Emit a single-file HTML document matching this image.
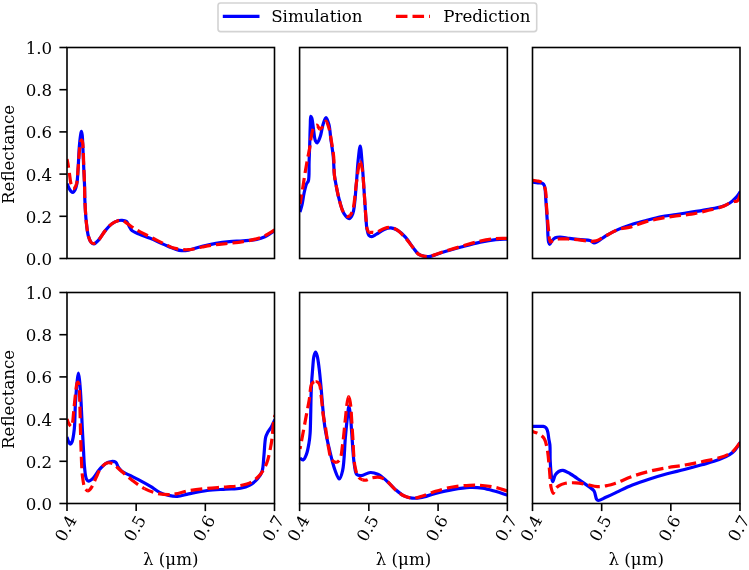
<!DOCTYPE html>
<html><head><meta charset="utf-8"><title>Reflectance</title>
<style>html,body{margin:0;padding:0;background:#fff;overflow:hidden}svg{display:block}text{font-family:"DejaVu Serif","Liberation Serif",serif;font-size:16.67px;fill:#000}</style>
</head><body>
<svg width="749" height="570" viewBox="0 0 749 570">
<rect width="749" height="570" fill="#fff"/>
<defs>
<clipPath id="c00"><rect x="67" y="47.5" width="207.5" height="211"/></clipPath>
<clipPath id="c01"><rect x="299.6" y="47.5" width="207.75" height="211"/></clipPath>
<clipPath id="c02"><rect x="532.5" y="47.5" width="207.5" height="211"/></clipPath>
<clipPath id="c10"><rect x="67" y="292.5" width="207.5" height="211"/></clipPath>
<clipPath id="c11"><rect x="299.6" y="292.5" width="207.75" height="211"/></clipPath>
<clipPath id="c12"><rect x="532.5" y="292.5" width="207.5" height="211"/></clipPath>
</defs>
<rect x="218" y="3" width="318.7" height="28.6" rx="2.6" fill="#fff" stroke="#d3d3d3" stroke-width="1.6"/>
<line x1="224.4" y1="16.35" x2="257.9" y2="16.35" stroke="#0000ff" stroke-width="3.2" stroke-linecap="square"/>
<text x="271.2" y="22.3">Simulation</text>
<line x1="395.9" y1="16.35" x2="430" y2="16.35" stroke="#ff0000" stroke-width="3.2" stroke-dasharray="11.56 5.04"/>
<text x="443.3" y="22.25">Prediction</text>
<g clip-path="url(#c00)" fill="none" stroke-width="3.2" stroke-linejoin="round">
<path d="M67,183.5 C67.67,185.1 68.26,186.92 69,188.3 C69.62,189.45 70.24,190.6 71,191.3 C71.61,191.86 72.38,192.52 73,192.4 C73.73,192.26 74.43,191.05 75,190 C75.8,188.51 76.32,186.54 76.8,184 C77.59,179.81 77.79,172.9 78.2,167 C78.64,160.61 78.83,152.81 79.3,147 C79.67,142.49 80.14,137.82 80.6,135 C80.86,133.44 81.13,131.4 81.4,131.4 C81.67,131.4 81.99,133.46 82.2,135 C82.57,137.66 82.59,141.75 82.8,146 C83.09,151.88 83.4,160.37 83.7,167 C83.97,172.97 84.3,178.33 84.5,184 C84.7,189.67 84.63,195.04 84.9,201 C85.2,207.63 85.62,215.69 86.3,222 C86.86,227.21 87.32,232.47 88.4,236.2 C89.15,238.78 90,241.24 91.2,242.5 C92.01,243.35 93.01,244.01 94,243.9 C95.32,243.75 96.81,241.99 98.3,240.4 C100.5,238.06 102.85,233.52 105.3,230.6 C107.53,227.94 109.95,225.2 112.3,223.5 C114.16,222.15 116.12,221.21 117.9,220.7 C119.36,220.28 120.71,220.19 122.1,220.3 C123.51,220.41 125.16,220.54 126.3,221.4 C127.61,222.39 128.22,224.73 129.2,226.3 C130.13,227.79 130.64,229.4 132,230.6 C133.68,232.08 136.37,232.86 139,234 C142.27,235.42 146.27,236.67 150.2,238.3 C154.65,240.15 159.91,242.72 164.3,244.6 C168.1,246.23 171.8,247.95 175,249 C177.49,249.82 179.52,250.52 181.8,250.7 C184.05,250.88 185.97,250.58 188.6,250.1 C192.38,249.41 197.64,247.43 202.2,246.3 C206.74,245.17 211.32,244.09 215.9,243.3 C220.42,242.52 224.96,242 229.5,241.6 C234.03,241.2 238.57,241.25 243.1,240.9 C247.64,240.55 252.78,240.34 256.7,239.5 C259.82,238.83 262.5,237.92 264.9,236.8 C266.98,235.83 268.66,234.52 270.4,233.4 C272.01,232.36 273.47,231.33 275,230.3" stroke="#0000ff"/>
<path id="r1_0" d="M67,159 C67.33,160.67 67.66,162.04 68,164 C68.48,166.76 69,170.67 69.5,174 C70,177.33 70.29,181.34 71,184 C71.5,185.86 71.99,188.23 72.8,188.6 C73.29,188.82 73.99,188.45 74.5,188 C75.3,187.29 75.97,185.8 76.5,184" stroke="#ff0000" stroke-dasharray="11.56 5.04" stroke-dashoffset="2.57"/>
<path id="r1_1" d="M76.5,184 C77.44,180.8 77.54,175.09 78,170 C78.55,163.93 78.93,155.25 79.5,150 C79.87,146.56 80.14,143.22 80.7,141.5 C80.96,140.68 81.31,139.79 81.6,139.8 C81.92,139.82 82.26,141.01 82.5,142 C82.94,143.81 83.01,146.83 83.2,150 C83.48,154.61 83.58,161.33 83.8,167 C84.02,172.67 84.32,178.33 84.5,184 C84.68,189.67 84.63,195.04 84.9,201 C85.2,207.63 85.62,215.69 86.3,222 C86.86,227.21 87.32,232.47 88.4,236.2 C89.15,238.78 90.09,241.37 91.2,242.5 C91.84,243.16 92.47,243.55 93.3,243.5 C94.63,243.43 96.65,241.95 98.3,240.4 C100.66,238.19 102.85,233.52 105.3,230.6 C107.53,227.94 109.95,225.2 112.3,223.5 C114.16,222.15 116.12,221.21 117.9,220.7 C119.36,220.28 120.75,220 122.1,220.3 C123.56,220.63 124.74,221.79 126.3,222.8 C128.38,224.15 130.8,226.15 133.4,227.8 C136.36,229.68 139.8,231.58 143.2,233.4 C146.78,235.32 150.78,237.2 154.4,239 C157.8,240.69 160.91,242.35 164.3,243.9 C167.77,245.49 171.14,247.43 175,248.4 C179.19,249.45 184.08,249.93 188.6,249.7 C193.15,249.47 197.65,247.83 202.2,247 C206.75,246.17 211.33,245.32 215.9,244.7 C220.43,244.09 224.97,243.82 229.5,243.3 C234.04,242.78 238.58,242.35 243.1,241.6 C247.65,240.85 252.78,239.94 256.7,238.8 C259.82,237.9 262.08,237.04 264.9,235.7 C268.15,234.15 271.63,231.77 275,229.8" stroke="#ff0000" stroke-dasharray="11.56 5.04" stroke-dashoffset="7.96"/>
</g>
<rect x="67" y="47.5" width="207.5" height="211" fill="none" stroke="#000" stroke-width="1.6" stroke-linejoin="miter"/>
<line x1="59.4" y1="258.5" x2="67" y2="258.5" stroke="#000" stroke-width="1.6"/>
<text x="52.2" y="264.9" text-anchor="end">0.0</text>
<line x1="59.4" y1="216.3" x2="67" y2="216.3" stroke="#000" stroke-width="1.6"/>
<text x="52.2" y="222.7" text-anchor="end">0.2</text>
<line x1="59.4" y1="174.1" x2="67" y2="174.1" stroke="#000" stroke-width="1.6"/>
<text x="52.2" y="180.5" text-anchor="end">0.4</text>
<line x1="59.4" y1="131.9" x2="67" y2="131.9" stroke="#000" stroke-width="1.6"/>
<text x="52.2" y="138.3" text-anchor="end">0.6</text>
<line x1="59.4" y1="89.7" x2="67" y2="89.7" stroke="#000" stroke-width="1.6"/>
<text x="52.2" y="96.1" text-anchor="end">0.8</text>
<line x1="59.4" y1="47.5" x2="67" y2="47.5" stroke="#000" stroke-width="1.6"/>
<text x="52.2" y="53.9" text-anchor="end">1.0</text>
<g clip-path="url(#c01)" fill="none" stroke-width="3.2" stroke-linejoin="round">
<path d="M300,212 C300.67,209.67 301.39,207.66 302,205 C302.79,201.55 303.29,196.7 304.1,193 C304.81,189.77 305.58,186.22 306.5,184 C307.09,182.58 307.93,182.33 308.4,180.7 C309.43,177.12 308.88,168.34 309.1,162.3 C309.31,156.44 309.51,150.98 309.7,145 C309.91,138.58 310.07,130.3 310.3,125 C310.45,121.5 310.27,116.43 310.8,116.3 C311.05,116.24 311.49,117.14 311.8,118 C312.53,120.05 312.91,125.36 313.5,129.1 C314.11,132.93 314.33,138.47 315.4,140.7 C315.93,141.79 316.67,142.89 317.3,142.8 C318.27,142.66 319.35,139.22 320.2,136.8 C321.38,133.44 321.96,127.8 323.1,124.3 C323.97,121.65 325.03,117.5 326,117.5 C326.97,117.5 328.15,121.55 328.9,124.3 C329.95,128.15 330.12,133.61 330.8,138.7 C331.57,144.44 332.7,150.91 333.3,157 C333.9,163.04 333.76,169.63 334.4,175.1 C334.94,179.7 335.83,183.73 336.6,187.7 C337.3,191.29 337.78,194.16 338.8,197.9 C340.08,202.62 341.69,210.11 344,213.7 C345.52,216.06 347.79,218.75 349.3,218.6 C350.68,218.46 351.83,216.2 352.8,213.7 C354.96,208.11 355.39,193.19 356.3,183.9 C357.1,175.77 357.36,167.82 358.1,161 C358.7,155.46 359.55,145.99 360.2,146 C360.89,146.01 361.51,156.4 362.1,162.8 C362.88,171.31 363.53,182.97 364.2,192.6 C364.83,201.67 365.46,212.4 366,219 C366.32,222.96 366.36,225.63 366.9,228.5 C367.36,230.95 367.7,233.86 368.8,235.2 C369.55,236.12 370.61,236.7 371.7,236.7 C373.1,236.7 374.73,235.21 376.5,234.2 C378.79,232.89 381.62,230.45 384.2,229.4 C386.46,228.48 388.76,227.74 391,227.9 C393.27,228.06 395.51,229.09 397.7,230.4 C400.32,231.96 402.97,234.45 405.4,237.1 C408.15,240.1 410.67,244.61 413.1,247.7 C415.09,250.23 416.67,252.97 418.8,254.4 C420.57,255.59 422.64,255.99 424.6,256.3 C426.51,256.6 428.17,256.66 430.4,256.3 C433.62,255.78 437.56,253.84 441.9,252.5 C447.49,250.78 454.76,248.74 461.2,247 C467.6,245.27 474.33,243.37 480.4,242.1 C485.79,240.98 490.95,240.07 495.8,239.6 C500.09,239.18 503.93,239.33 508,239.2" stroke="#0000ff"/>
<path id="r2_0" d="M300,204 C300.17,203.2 300.29,202.74 300.5,201.6 C301.02,198.78 302.1,191.91 302.9,186.9 C303.73,181.68 304.55,176 305.4,170.9 C306.18,166.2 307.02,161.49 307.8,157.4 C308.45,153.98 309.16,151.21 309.7,148 C310.26,144.68 310.46,141.14 311.1,137.8 C311.73,134.51 312.16,130.26 313.5,128.1 C314.39,126.65 315.87,125.08 316.9,125.2 C317.98,125.32 318.76,128.97 319.8,129.1" stroke="#ff0000" stroke-dasharray="11.56 5.04" stroke-dashoffset="1.87"/>
<path id="r2_1" d="M319.8,129.1 C320.71,129.21 321.79,127.77 322.7,126.7 C323.9,125.28 325,120.93 326,121 C327.08,121.07 328.05,125.23 328.9,128.1 C330.11,132.22 330.98,138.61 331.8,143.6 C332.56,148.22 333.27,152.19 333.7,157 C334.2,162.57 333.82,169.63 334.4,175.1 C334.89,179.7 335.83,183.73 336.6,187.7 C337.3,191.29 337.85,194.28 338.8,197.9 C339.91,202.13 341.14,208.22 343,211.5 C344.28,213.76 346.11,216.18 347.5,216.5 C348.38,216.7 349.25,216.18 350,215.5" stroke="#ff0000" stroke-dasharray="11.56 5.04" stroke-dashoffset="7.25"/>
<path id="r2_2" d="M350,215.5 C351.13,214.47 351.99,212.61 352.8,210 C354.48,204.61 355.26,191.53 356.3,183.9 C357.11,177.95 357.68,172.12 358.5,168 C359.03,165.34 359.6,161.51 360.2,161.5" stroke="#ff0000" stroke-dasharray="11.56 5.04" stroke-dashoffset="7.53"/>
<path id="r2_3" d="M360.2,161.5 C360.8,161.49 361.56,165.1 362.1,168 C363.13,173.53 363.56,184.25 364.2,192.6 C364.86,201.24 365.43,212.4 366,219 C366.34,222.96 366.27,226.1 367,228.5 C367.49,230.11 368.04,231.72 369,232.3" stroke="#ff0000" stroke-dasharray="11.56 5.04" stroke-dashoffset="0.77"/>
<path id="r2_4" d="M369,232.3 C369.8,232.78 370.9,232.3 372,232.3 C373.35,232.3 374.85,232.69 376.5,232.3 C378.78,231.77 381.65,229.29 384.2,228.5 C386.48,227.79 388.78,227.21 391,227.5 C393.29,227.8 395.52,228.93 397.7,230.4 C400.35,232.19 402.91,235.23 405.4,238 C408.06,240.96 410.7,244.78 413.1,247.7 C415.12,250.16 416.67,252.97 418.8,254.4 C420.57,255.59 422.64,256.04 424.6,256.3 C426.51,256.55 428.17,256.42 430.4,256 C433.62,255.4 437.56,253.57 441.9,252.2 C447.49,250.44 454.77,248.27 461.2,246.4 C467.6,244.54 474.31,242.32 480.4,241 C485.78,239.83 490.95,239.02 495.8,238.6 C500.09,238.23 503.93,238.47 508,238.4" stroke="#ff0000" stroke-dasharray="11.56 5.04" stroke-dashoffset="7.17"/>
</g>
<rect x="299.6" y="47.5" width="207.75" height="211" fill="none" stroke="#000" stroke-width="1.6" stroke-linejoin="miter"/>
<g clip-path="url(#c02)" fill="none" stroke-width="3.2" stroke-linejoin="round">
<path d="M532.7,182 C534.43,182.3 536.21,182.66 537.9,182.9 C539.5,183.12 541.47,182.75 542.6,183.4 C543.53,183.94 544,184.7 544.5,186 C545.52,188.67 545.38,194.37 545.8,199.5 C546.36,206.27 546.91,215.66 547.4,223.1 C547.84,229.78 547.76,238.87 548.6,242.1 C548.91,243.28 549.23,244.38 549.7,244.4 C550.32,244.43 551.14,241.63 552.1,240.5 C553.02,239.41 554.03,238.29 555.3,237.7 C556.64,237.08 558.16,237 560,237 C562.62,237 566.21,237.96 569.5,238.4 C573.03,238.87 576.96,239.34 580.5,239.7 C583.78,240.03 587.6,239.71 590,240.5 C591.67,241.05 592.56,242.79 593.9,242.9 C595.2,243.01 596.39,242.11 597.9,241.3 C600.15,240.09 602.79,237.6 605.8,235.8 C609.45,233.62 614.15,231.27 618.4,229.4 C622.55,227.58 626.63,226.12 631,224.7 C635.61,223.2 640.52,222 645.4,220.7 C650.42,219.36 655.57,217.84 660.7,216.8 C665.8,215.77 670.98,215.27 676.1,214.5 C681.21,213.73 686.3,213.01 691.4,212.2 C696.53,211.38 701.68,210.55 706.8,209.6 C711.92,208.65 717.93,207.85 722.1,206.5 C725.17,205.51 727.48,204.5 729.8,203 C732.07,201.52 734.1,199.55 735.9,197.6 C737.65,195.71 738.97,193.53 740.5,191.5" stroke="#0000ff"/>
<path id="r3_0" d="M532.7,180.2 C534.13,180.47 535.6,180.68 537,181 C538.36,181.31 539.81,181.22 541,182.1 C542.59,183.28 544.05,185.59 545,188.4 C546.51,192.89 546.04,200.64 546.6,207.3 C547.23,214.75 547.78,224.59 548.6,231 C549.16,235.41 549.24,241.56 550.5,242.1" stroke="#ff0000" stroke-dasharray="11.56 5.04" stroke-dashoffset="2.28"/>
<path id="r3_1" d="M550.5,242.1 C551.14,242.38 551.89,240.96 552.9,240.5 C554.32,239.85 556.3,239.28 558.4,239 C561.12,238.64 564.74,238.88 567.9,239 C571.04,239.12 573.94,239.36 577.3,239.7 C581.22,240.09 586.5,241.22 590,241.3 C592.46,241.36 594.06,241.45 596.3,240.8 C599.22,239.95 602.4,237.56 605.8,235.8 C609.7,233.78 614.19,230.86 618.4,229.4 C622.25,228.07 625.9,228.19 630,227.1 C634.81,225.82 640.24,223.36 645.4,221.9 C650.47,220.47 655.58,219.42 660.7,218.4 C665.81,217.38 670.96,216.5 676.1,215.8 C681.2,215.1 686.32,215.04 691.4,214.2 C696.55,213.35 701.68,211.93 706.8,210.7 C711.92,209.47 717.93,208.34 722.1,206.8 C725.17,205.66 727.53,203.92 729.8,203 C731.5,202.31 733.01,201.91 734.4,201.5 C735.53,201.17 736.61,201.45 737.5,200.7 C738.84,199.57 739.5,196.23 740.5,194" stroke="#ff0000" stroke-dasharray="11.56 5.04" stroke-dashoffset="8.66"/>
</g>
<rect x="532.5" y="47.5" width="207.5" height="211" fill="none" stroke="#000" stroke-width="1.6" stroke-linejoin="miter"/>
<text transform="translate(14,154.4) rotate(-90)" text-anchor="middle">Reflectance</text>
<g clip-path="url(#c10)" fill="none" stroke-width="3.2" stroke-linejoin="round">
<path d="M67,437 C67.5,438.5 67.88,440.23 68.5,441.5 C69.02,442.55 69.69,444.18 70.3,444.2 C70.86,444.22 71.5,443.13 72,442 C73.09,439.54 73.74,434.06 74.3,429 C75.07,422.02 74.9,412.07 75.4,403.9 C75.88,396.09 76.55,386.66 77.2,381 C77.58,377.64 78,373 78.4,373 C78.8,373 79.25,377.96 79.6,381 C80.06,385.01 80.34,389.27 80.7,395 C81.28,404.07 81.88,420.14 82.4,430.2 C82.79,437.74 83.14,443.65 83.5,450 C83.84,455.88 83.94,461.85 84.5,467 C84.97,471.33 85.23,476.61 86.4,478.9 C86.99,480.07 87.69,481 88.6,481.1 C89.81,481.23 91.7,479.53 93.2,478.1 C95.25,476.14 97.1,472.27 99.2,469.8 C101.11,467.55 103.03,465.2 105.2,463.8 C107.1,462.57 109.4,461.68 111.3,461.5 C112.89,461.35 114.68,461.47 115.8,462.3 C116.98,463.17 117.15,465.35 118.1,466.8 C119.12,468.36 120.18,470 121.8,471.3 C123.76,472.86 126.76,473.78 129.4,475.1 C132.27,476.54 135.2,477.9 138.4,479.6 C142.16,481.59 146.79,484.14 150.5,486.4 C153.79,488.4 156.47,490.88 159.6,492.4 C162.52,493.82 165.58,494.75 168.6,495.4 C171.52,496.03 174.3,496.47 177.4,496.3 C180.92,496.11 184.39,494.74 188.6,493.9 C194.01,492.83 200.98,491.28 207.2,490.5 C213.38,489.72 219.95,489.58 225.8,489.2 C231.01,488.86 236.29,489.16 240.6,488.3 C244.11,487.6 247.09,486.66 249.9,485.1 C252.69,483.55 255.35,481.32 257.4,479 C259.34,476.79 260.92,474.67 262,471.6 C263.46,467.44 263.3,461.28 263.9,455.8 C264.54,449.86 264.69,441.3 265.7,437.2 C266.22,435.06 266.76,434.08 267.6,432.5 C268.56,430.69 270.13,429.02 271.3,427 C272.61,424.73 273.77,422 275,419.5" stroke="#0000ff"/>
<path id="r4_0" d="M67,419 C67.5,420.33 67.8,421.76 68.5,423 C69.22,424.27 70.63,426.62 71.3,426.5 C71.91,426.39 72.17,424.5 72.5,423 C73.06,420.48 73.19,416.52 73.6,412.6 C74.13,407.5 74.74,400.32 75.4,395 C75.95,390.56 76.38,384.42 77.2,382.8 C77.45,382.31 77.75,381.96 78,382 C78.34,382.06 78.65,382.95 78.9,384 C79.65,387.16 79.51,395.89 79.8,403.9 C80.25,416.12 80.54,436.82 81.1,450.2 C81.53,460.44 81.66,470.38 82.6,477.3 C83.19,481.68 83.62,485.56 84.9,487.9 C85.7,489.37 86.84,490.9 87.9,490.9" stroke="#ff0000" stroke-dasharray="11.56 5.04" stroke-dashoffset="3.7"/>
<path id="r4_1" d="M87.9,490.9 C89.09,490.9 90.52,488.8 91.7,487.1 C93.37,484.7 94.67,480.48 96.2,477.3 C97.67,474.22 98.81,470.76 100.7,468.3 C102.39,466.1 104.8,463.72 106.7,463 C108.01,462.5 109.26,462.76 110.5,463 C111.79,463.25 113.17,463.76 114.3,464.5 C115.45,465.25 116.11,466.38 117.3,467.5 C118.94,469.04 121.08,470.89 123.3,472.8 C126,475.12 129.09,477.89 132.4,480.4 C136.09,483.19 140.34,486.53 144.5,488.7" stroke="#ff0000" stroke-dasharray="11.56 5.04" stroke-dashoffset="4.51"/>
<path id="r4_2" d="M144.5,488.7 C148.39,490.72 152.43,492.2 156.5,493.2 C160.47,494.18 165.11,494.68 168.6,494.7 C171.25,494.71 172.93,494.38 175.6,493.9 C179.29,493.24 183.85,491.59 188.6,490.7 C194.22,489.65 200.99,488.92 207.2,488.3 C213.39,487.68 219.96,487.5 225.8,487 C231.02,486.55 236.06,486.47 240.6,485.5 C244.64,484.64 248.42,483.76 251.8,481.8 C255.28,479.78 258.59,476.57 261.1,473.4 C263.52,470.34 265.2,467.03 266.7,463.2 C268.42,458.8 269.45,452.92 270.4,448.3 C271.21,444.35 271.72,441.06 272.2,437.2 C272.71,433.05 272.77,428.15 273.3,424.2 C273.75,420.86 274.43,418.07 275,415" stroke="#ff0000" stroke-dasharray="11.56 5.04" stroke-dashoffset="2.07"/>
</g>
<rect x="67" y="292.5" width="207.5" height="211" fill="none" stroke="#000" stroke-width="1.6" stroke-linejoin="miter"/>
<line x1="59.4" y1="503.5" x2="67" y2="503.5" stroke="#000" stroke-width="1.6"/>
<text x="52.2" y="509.9" text-anchor="end">0.0</text>
<line x1="59.4" y1="461.3" x2="67" y2="461.3" stroke="#000" stroke-width="1.6"/>
<text x="52.2" y="467.7" text-anchor="end">0.2</text>
<line x1="59.4" y1="419.1" x2="67" y2="419.1" stroke="#000" stroke-width="1.6"/>
<text x="52.2" y="425.5" text-anchor="end">0.4</text>
<line x1="59.4" y1="376.9" x2="67" y2="376.9" stroke="#000" stroke-width="1.6"/>
<text x="52.2" y="383.3" text-anchor="end">0.6</text>
<line x1="59.4" y1="334.7" x2="67" y2="334.7" stroke="#000" stroke-width="1.6"/>
<text x="52.2" y="341.1" text-anchor="end">0.8</text>
<line x1="59.4" y1="292.5" x2="67" y2="292.5" stroke="#000" stroke-width="1.6"/>
<text x="52.2" y="298.9" text-anchor="end">1.0</text>
<line x1="67" y1="503.5" x2="67" y2="511.1" stroke="#000" stroke-width="1.6"/>
<text transform="translate(77.4,519.7) rotate(-60)" text-anchor="end">0.4</text>
<line x1="136.17" y1="503.5" x2="136.17" y2="511.1" stroke="#000" stroke-width="1.6"/>
<text transform="translate(146.57,519.7) rotate(-60)" text-anchor="end">0.5</text>
<line x1="205.33" y1="503.5" x2="205.33" y2="511.1" stroke="#000" stroke-width="1.6"/>
<text transform="translate(215.73,519.7) rotate(-60)" text-anchor="end">0.6</text>
<line x1="274.5" y1="503.5" x2="274.5" y2="511.1" stroke="#000" stroke-width="1.6"/>
<text transform="translate(284.9,519.7) rotate(-60)" text-anchor="end">0.7</text>
<text x="170.75" y="565.2" text-anchor="middle">λ (μm)</text>
<g clip-path="url(#c11)" fill="none" stroke-width="3.2" stroke-linejoin="round">
<path d="M300,458.3 C301.07,458.83 302.25,460.18 303.2,459.9 C304.47,459.52 305.51,456.65 306.4,454.4 C307.6,451.36 308.38,446.64 309,443 C309.56,439.71 309.84,437.02 310.1,433.5 C310.43,429.12 310.43,424.48 310.6,418.7 C310.83,410.55 310.89,398.21 311.3,389.2 C311.64,381.57 312.17,374.16 312.7,368.1 C313.1,363.5 313.26,358.86 314,356 C314.43,354.34 315.07,352.2 315.6,352.2 C316.13,352.2 316.73,354.34 317.2,356 C318.01,358.86 318.51,363.5 319.1,368.1 C319.88,374.15 320.55,382.17 321.2,389.2 C321.85,396.21 322.33,403.5 323,410.2 C323.61,416.36 324.01,421.68 325,427.9 C326.12,434.93 327.86,442.95 329.6,450.2 C331.28,457.2 333.21,465.46 335.2,470.7 C336.51,474.16 338.06,479.05 339.3,479 C340.52,478.95 341.71,474.48 342.6,470.7 C344.33,463.36 344.52,446.82 345.4,437.2 C346.07,429.91 346.62,423.65 347.3,418 C347.84,413.53 348.45,406 349,406 C349.48,406 350,411.49 350.4,415 C350.96,419.88 351.18,425.88 351.7,432.6 C352.4,441.6 353.04,456.53 354.3,464.2 C355.03,468.68 355.18,473.05 356.9,474.7 C358.01,475.77 359.59,475.71 361.3,475.6 C363.79,475.44 367.42,472.66 370.3,472.5 C372.89,472.36 375.34,473.06 377.8,474.2 C380.69,475.54 383.54,478.21 386.3,480.6 C389.25,483.14 391.96,486.54 394.9,489.1 C397.67,491.51 400.41,494.09 403.4,495.6 C406.14,496.98 409.11,497.76 412,498.1 C414.81,498.43 417.3,498.23 420.5,497.7 C424.83,496.99 430.32,494.72 435.5,493.4 C440.99,492 446.88,490.6 452.6,489.6 C458.28,488.61 464.4,487.59 469.7,487.4 C474.27,487.23 478.26,487.46 482.5,488.1 C486.8,488.75 491.06,490.1 495.3,491.3 C499.56,492.5 503.77,493.97 508,495.3" stroke="#0000ff"/>
<path id="r5_0" d="M300,449 C300.87,444.43 301.66,440.32 302.6,435.3 C303.75,429.18 305.23,421.17 306.4,414.9 C307.4,409.54 308.29,405.1 309.2,400 C310.16,394.64 310.07,386.22 312,383.5 C312.96,382.15 314.41,381.49 315.6,381.5" stroke="#ff0000" stroke-dasharray="11.56 5.04" stroke-dashoffset="8.43"/>
<path id="r5_1" d="M315.6,381.5 C316.78,381.51 318.21,382.22 319.1,383.5 C320.69,385.78 320.56,391.5 321.2,396.2 C321.99,402.02 322.5,410.64 323.3,415.8 C323.82,419.2 324.37,420.67 325,424.2 C326.06,430.17 327.39,441.91 328.7,448.4 C329.6,452.84 329.79,457.19 331.5,459.5 C332.67,461.09 334.67,462.37 336.1,462.3" stroke="#ff0000" stroke-dasharray="11.56 5.04" stroke-dashoffset="0.99"/>
<path id="r5_2" d="M336.1,462.3 C337.42,462.23 338.82,461.08 339.8,459.5 C341.57,456.64 341.76,450.27 342.6,444.6 C343.7,437.15 344.55,426.3 345.4,418.6 C346.08,412.45 346.56,406 347.3,402 C347.73,399.69 348.22,396.6 348.7,396.6" stroke="#ff0000" stroke-dasharray="11.56 5.04" stroke-dashoffset="7.85"/>
<path id="r5_3" d="M348.7,396.6 C349.18,396.6 349.75,399.43 350.2,402 C351.25,408 351.7,422.05 352.5,432.6 C353.36,443.9 353.49,459.72 355.2,467.7 C356.13,472.02 357.08,475.38 358.7,477.4 C359.77,478.73 361.21,479.34 362.5,479.8" stroke="#ff0000" stroke-dasharray="11.56 5.04" stroke-dashoffset="0.94"/>
<path id="r5_4" d="M362.5,479.8 C363.65,480.2 364.73,480.37 366,480.2 C367.63,479.98 369.35,478.48 371.4,478 C373.87,477.42 377.33,476.89 379.9,477.4 C382.25,477.87 384.04,478.97 386.3,480.6 C389.59,482.97 393.47,488.51 397,491.3 C399.89,493.58 402.63,495.47 405.6,496.6 C408.35,497.64 411.28,498.2 414.1,498.1 C416.94,498 419.5,496.94 422.6,496 C426.48,494.82 430.86,492.73 435.5,491.3 C440.76,489.68 446.86,488 452.6,487 C458.26,486.01 464.41,485.52 469.7,485.3 C474.27,485.11 478.24,485.15 482.5,485.5 C486.78,485.85 491.08,486.46 495.3,487.4 C499.58,488.35 503.77,489.93 508,491.2" stroke="#ff0000" stroke-dasharray="11.56 5.04" stroke-dashoffset="6.12"/>
</g>
<rect x="299.6" y="292.5" width="207.75" height="211" fill="none" stroke="#000" stroke-width="1.6" stroke-linejoin="miter"/>
<line x1="299.6" y1="503.5" x2="299.6" y2="511.1" stroke="#000" stroke-width="1.6"/>
<text transform="translate(310,519.7) rotate(-60)" text-anchor="end">0.4</text>
<line x1="368.85" y1="503.5" x2="368.85" y2="511.1" stroke="#000" stroke-width="1.6"/>
<text transform="translate(379.25,519.7) rotate(-60)" text-anchor="end">0.5</text>
<line x1="438.1" y1="503.5" x2="438.1" y2="511.1" stroke="#000" stroke-width="1.6"/>
<text transform="translate(448.5,519.7) rotate(-60)" text-anchor="end">0.6</text>
<line x1="507.35" y1="503.5" x2="507.35" y2="511.1" stroke="#000" stroke-width="1.6"/>
<text transform="translate(517.75,519.7) rotate(-60)" text-anchor="end">0.7</text>
<text x="403.48" y="565.2" text-anchor="middle">λ (μm)</text>
<g clip-path="url(#c12)" fill="none" stroke-width="3.2" stroke-linejoin="round">
<path d="M532.5,426.3 C533.67,426.3 534.79,426.3 536,426.3 C537.29,426.3 538.74,426.28 540,426.3 C541.13,426.32 542.25,426.22 543.2,426.4 C544.02,426.56 544.79,426.75 545.4,427.2 C546.03,427.67 546.5,428.41 546.9,429.2 C547.37,430.13 547.61,431.22 547.9,432.5 C548.29,434.23 548.47,436.63 548.8,438.7 C549.13,440.79 549.65,442.42 549.9,445 C550.29,449.03 549.93,455.31 550.2,460.6 C550.48,466.1 550.92,473.69 551.6,477.4 C551.95,479.29 552.29,481.58 552.8,481.6 C553.45,481.63 554.17,476.67 555.3,474.9 C556.23,473.45 557.39,472.27 558.7,471.5 C559.94,470.77 561.32,470.16 562.9,470.3 C565.09,470.49 567.84,472.47 570.5,474 C573.69,475.84 577.4,478.6 580.6,480.8 C583.54,482.82 586.6,484.85 589,486.7 C590.92,488.17 592.76,489.03 594,490.9 C595.44,493.07 595.53,497.83 596.6,499.3 C597.12,500.01 597.5,500.42 598.3,500.5 C599.88,500.67 603.23,498.44 605.8,497.3 C608.55,496.08 611.76,494.61 614.3,493.4 C616.4,492.4 617.72,491.66 620,490.6 C623.33,489.05 627.88,486.89 632.4,485.1 C637.65,483.01 643.9,480.89 649.7,479 C655.47,477.12 661.29,475.39 667.1,473.8 C672.86,472.23 678.63,471 684.4,469.5 C690.2,468 696.01,466.45 701.8,464.8 C707.61,463.15 714.2,461.51 719.2,459.6 C723.18,458.08 726.82,456.47 729.6,454.7 C731.73,453.35 733.15,452.21 734.8,450.4 C736.82,448.17 738.6,444.8 740.5,442" stroke="#0000ff"/>
<path id="r6_0" d="M532.5,431.6 C534.47,432.27 536.54,432.54 538.4,433.6 C540.46,434.78 542.77,436.36 544.2,438.6 C545.91,441.26 546.4,444.93 547.2,449 C548.3,454.55 548.74,462.46 549.4,469 C550.03,475.28 550.1,483.1 551.1,487.5 C551.68,490.06 552.54,493.37 553.3,493.4 C553.95,493.43 554.41,490.46 555.3,489.2 C556.2,487.92 557.25,486.73 558.7,485.8 C560.47,484.67 562.89,483.82 565.4,483.3 C568.38,482.69 572.14,482.65 575.5,482.8 C578.87,482.95 582.11,483.59 585.6,484.2 C589.39,484.86 593.61,486.53 597.4,486.7 C600.88,486.86 604.41,486.11 607.5,485.5 C610.21,484.96 612.02,484.41 615,483.4 C619.63,481.83 626.56,478.45 632.4,476.4 C638.13,474.39 643.89,472.65 649.7,471.2 C655.46,469.76 661.3,468.72 667.1,467.7 C672.86,466.69 678.64,466.1 684.4,465.1 C690.2,464.1 696.01,462.91 701.8,461.7 C707.61,460.48 714.45,459.18 719.2,457.8 C722.6,456.81 725.26,456.02 727.8,454.7 C730.1,453.5 731.96,452.25 733.9,450.4 C736.23,448.19 738.3,444.8 740.5,442" stroke="#ff0000" stroke-dasharray="11.56 5.04" stroke-dashoffset="6.43"/>
</g>
<rect x="532.5" y="292.5" width="207.5" height="211" fill="none" stroke="#000" stroke-width="1.6" stroke-linejoin="miter"/>
<line x1="532.5" y1="503.5" x2="532.5" y2="511.1" stroke="#000" stroke-width="1.6"/>
<text transform="translate(542.9,519.7) rotate(-60)" text-anchor="end">0.4</text>
<line x1="601.67" y1="503.5" x2="601.67" y2="511.1" stroke="#000" stroke-width="1.6"/>
<text transform="translate(612.07,519.7) rotate(-60)" text-anchor="end">0.5</text>
<line x1="670.83" y1="503.5" x2="670.83" y2="511.1" stroke="#000" stroke-width="1.6"/>
<text transform="translate(681.23,519.7) rotate(-60)" text-anchor="end">0.6</text>
<line x1="740" y1="503.5" x2="740" y2="511.1" stroke="#000" stroke-width="1.6"/>
<text transform="translate(750.4,519.7) rotate(-60)" text-anchor="end">0.7</text>
<text x="636.25" y="565.2" text-anchor="middle">λ (μm)</text>
<text transform="translate(14,399.4) rotate(-90)" text-anchor="middle">Reflectance</text>
</svg></body></html>
